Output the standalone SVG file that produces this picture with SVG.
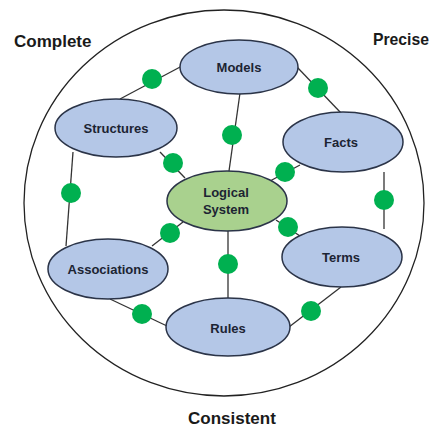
<svg xmlns="http://www.w3.org/2000/svg" width="432" height="427" viewBox="0 0 432 427">
<style>
.node{fill:#b4c7e7;stroke:#2b3448;stroke-width:1.5}
.core{fill:#a9d18e;stroke:#2b3448;stroke-width:1.5}
.lbl{font-family:"Liberation Sans",Arial,sans-serif;font-weight:bold;font-size:13px;fill:#1c2433;text-anchor:middle}
.big{font-family:"Liberation Sans",Arial,sans-serif;font-weight:bold;font-size:17px;fill:#1a1a1a}
.edge line{stroke:#333;stroke-width:1.3}
.edge circle{fill:#00b050}
</style>
<rect width="432" height="427" fill="#fff"/>
<ellipse cx="224" cy="203" rx="200" ry="193" fill="none" stroke="#222" stroke-width="1.3"/>
<text class="big" x="14" y="47">Complete</text>
<text class="big" x="373" y="45" textLength="56" lengthAdjust="spacingAndGlyphs">Precise</text>
<text class="big" x="188" y="424">Consistent</text>
<g id="connectors" class="edge">
<line x1="120" y1="99" x2="182" y2="66"/>
<line x1="297" y1="67" x2="341" y2="113"/>
<line x1="240" y1="93" x2="229" y2="171"/>
<line x1="300" y1="165" x2="270" y2="181"/>
<line x1="384" y1="172" x2="384" y2="229"/>
<line x1="73" y1="152" x2="66" y2="246"/>
<line x1="160" y1="152" x2="185" y2="178"/>
<line x1="152" y1="246" x2="183" y2="222"/>
<line x1="110" y1="299" x2="167" y2="326"/>
<line x1="228" y1="230" x2="228" y2="298"/>
<line x1="276" y1="220" x2="300" y2="236"/>
<line x1="341" y1="287" x2="289" y2="327"/>
<circle cx="152" cy="79" r="10"/>
<circle cx="318" cy="88" r="10"/>
<circle cx="232" cy="135" r="10"/>
<circle cx="285" cy="172" r="10"/>
<circle cx="384" cy="200" r="10"/>
<circle cx="71" cy="193" r="10"/>
<circle cx="173" cy="163" r="10"/>
<circle cx="170" cy="233" r="10"/>
<circle cx="142" cy="314" r="10"/>
<circle cx="228" cy="264" r="10"/>
<circle cx="288" cy="227" r="10"/>
<circle cx="311" cy="311" r="10"/>
</g>
<g id="models"><ellipse class="node" cx="239" cy="67" rx="59" ry="27"/><text class="lbl" x="239" y="72">Models</text></g>
<g id="structures"><ellipse class="node" cx="116" cy="128" rx="61" ry="29"/><text class="lbl" x="116" y="133">Structures</text></g>
<g id="facts"><ellipse class="node" cx="343" cy="142" rx="60" ry="30"/><text class="lbl" x="341" y="147">Facts</text></g>
<g id="logical-system"><ellipse class="core" cx="227" cy="201" rx="60" ry="30"/><text class="lbl" x="226" y="197">Logical</text><text class="lbl" x="226" y="214">System</text></g>
<g id="associations"><ellipse class="node" cx="108" cy="269" rx="60" ry="30"/><text class="lbl" x="108" y="274">Associations</text></g>
<g id="terms"><ellipse class="node" cx="342" cy="257" rx="60" ry="30"/><text class="lbl" x="341" y="262">Terms</text></g>
<g id="rules"><ellipse class="node" cx="228" cy="327" rx="62" ry="29"/><text class="lbl" x="228" y="333">Rules</text></g>
</svg>
